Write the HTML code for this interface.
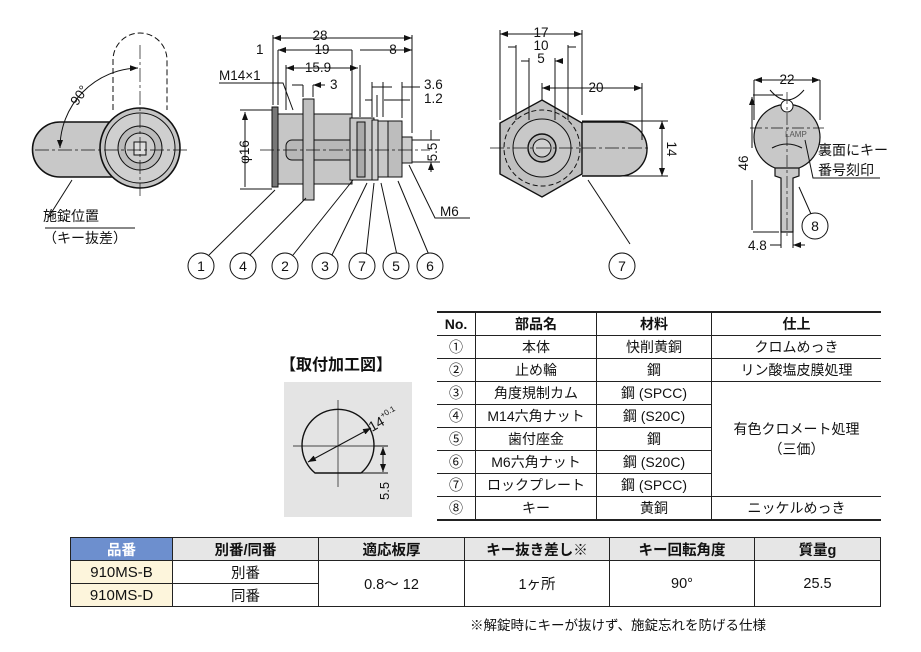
<!DOCTYPE html>
<html><head><meta charset="utf-8"><style>
body{margin:0;width:921px;height:652px;background:#fff;overflow:hidden;font-family:"Liberation Sans","Noto Sans CJK JP",sans-serif;}
svg{position:absolute;left:0;top:0}
table{position:absolute;border-collapse:collapse;font-size:14px;color:#111}
td{text-align:center;padding:0;border:1px solid #222}
.pt td{border-left:1px solid #222;border-right:1px solid #222;height:22px}
</style></head><body>
<svg width="921" height="652" font-family="Liberation Sans, Noto Sans CJK JP, sans-serif" font-size="13" fill="#111">
<defs><marker id="a" markerWidth="8" markerHeight="6" refX="8" refY="3" orient="auto-start-reverse"><path d="M0,0L8,3L0,6z" fill="#111"/></marker></defs>
<g stroke="#111" stroke-width="1" fill="none">
<!-- left view -->
<path d="M113,110V60A27,27 0 0 1 167,60V110" stroke-dasharray="6,3"/>
<path d="M140,122H60A27,27 0 0 0 60,177H140" fill="#c8c8c8" stroke-width="1.6"/>
<circle cx="140" cy="148" r="40" fill="#c4c4c4" stroke-width="1.6"/>
<circle cx="140" cy="148" r="35" fill="#cfcfcf"/>
<circle cx="140" cy="148" r="22" fill="#bbb"/>
<circle cx="140" cy="148" r="15" fill="#ccc"/>
<rect x="134" y="142" width="12" height="13" fill="#ddd"/>
<path d="M35,150H188M140,45V196" stroke-dasharray="14,3,3,3" stroke-width="0.7"/>
<path d="M60,148A80,80 0 0 1 138,68" marker-start="url(#a)" marker-end="url(#a)"/>
<path d="M72,180L48,218M45,228H135"/>
<!-- side view -->
<rect x="272" y="107" width="6" height="80" fill="#777"/>
<rect x="278" y="114" width="74" height="70" fill="#c6c6c6"/>
<rect x="286" y="140" width="70" height="20" fill="#b8b8b8" rx="6"/>
<rect x="303" y="99" width="11" height="101" fill="#c0c0c0"/>
<rect x="350" y="118" width="24" height="62" fill="#c8c8c8"/>
<rect x="357" y="122" width="8" height="55" fill="#aaa"/>
<rect x="372" y="120" width="6" height="60" fill="#d0d0d0"/>
<rect x="378" y="121" width="10" height="56" fill="#c8c8c8"/>
<rect x="388" y="121" width="14" height="56" fill="#bdbdbd"/>
<rect x="402" y="137" width="10" height="26" fill="#ccc"/>
<path d="M260,150H430" stroke-dasharray="14,3,3,3" stroke-width="0.7"/>
<path d="M273,35V105M412,35V133M278,50V105M352,50V115M286,65V110M360,65V115M360,83V117M303,85V97M313,85V97M372,82V117M377,95V117M383,82V117M402,82V118"/>
<path d="M273,38H412" marker-start="url(#a)" marker-end="url(#a)"/>
<path d="M278,50H352M360,50H412" marker-start="url(#a)" marker-end="url(#a)"/>
<path d="M286,68H358" marker-start="url(#a)" marker-end="url(#a)"/>
<path d="M292,85H303M325,85H313" marker-end="url(#a)"/>
<path d="M372,87H392M402,87H420" />
<path d="M365,100H372M384,100H410"/>
<path d="M240,110H272M240,189H272M245,112V187" />
<path d="M245,112V140M245,186V163" marker-start="url(#a)"/>
<path d="M412,140H440M412,162H440M431,130V140M431,172V162" marker-end="url(#a)"/>
<path d="M219,83H283L293,110"/>
<path d="M409,165L435,218H470"/>
<!-- leaders -->
<path d="M275,190L209,255M306,198L250,255M353,180L293,255M367,183L332,255M374,183L366,255M381,183L397,255M398,181L429,255"/>
<g fill="#fff"><circle cx="201" cy="266" r="13"/><circle cx="243" cy="266" r="13"/><circle cx="285" cy="266" r="13"/><circle cx="325" cy="266" r="13"/><circle cx="362" cy="266" r="13"/><circle cx="396" cy="266" r="13"/><circle cx="430" cy="266" r="13"/><circle cx="622" cy="266" r="13"/><circle cx="815" cy="226" r="13"/></g>
<!-- front view -->
<path d="M582,122H620A27,27 0 0 1 620,176H582" fill="#c6c6c6" stroke-width="1.4"/>
<path d="M542,100L582,123V174L542,197L500,174V123Z" fill="#c0c0c0" stroke-width="1.4"/>
<circle cx="542" cy="148" r="38" stroke-dasharray="5,3"/>
<circle cx="542" cy="148" r="29" fill="#c8c8c8"/>
<circle cx="542" cy="148" r="14" fill="#bbb" stroke-width="1.4"/>
<circle cx="542" cy="148" r="9" fill="#d0d0d0"/>
<path d="M490,148H650" stroke-dasharray="14,3,3,3" stroke-width="0.7"/>
<path d="M500,30V120M582,30V115M516,45V120M568,45V120M529,58V120M555,58V120M542,83V100M642,83V140M582,121H668M590,176H668"/>
<path d="M500,34H582" marker-start="url(#a)" marker-end="url(#a)"/>
<path d="M508,47H516M576,47H568M521,61H529M563,61H555" marker-end="url(#a)"/>
<path d="M542,88H642" marker-start="url(#a)" marker-end="url(#a)"/>
<path d="M662,121V176" marker-start="url(#a)" marker-end="url(#a)"/>
<path d="M630,244L588,180"/>
<!-- key -->
<path d="M775,165H799V176L793,178V232H781V178L775,176Z" fill="#c8c8c8" stroke-width="1.2"/>
<path d="M775,168A33,33 0 1 1 799,168Z" fill="#c8c8c8" stroke-width="1.2"/>
<circle cx="787" cy="106" r="6" fill="#fff"/>
<path d="M770,90Q787,110 804,90M772,148Q787,140 802,148"/>
<path d="M787,92V238M750,128H824" stroke-dasharray="12,3,3,3" stroke-width="0.7"/>
<path d="M753,95H783M753,232H779" />
<path d="M752,97V148M752,230V180" marker-start="url(#a)"/>
<path d="M754,80V120M820,80V120" />
<path d="M754,80H820" marker-start="url(#a)" marker-end="url(#a)"/>
<path d="M781,230V248M793,230V248M770,245H781M805,245H793" marker-end="url(#a)"/>
<path d="M805,140L813,178H880M799,187L811,214"/>
<!-- mounting -->
<rect x="284" y="382" width="128" height="135" fill="#e4e4e4" stroke="none"/>
<path d="M315,473A36,36 0 1 1 361,473Z" fill="none" stroke-width="1.4"/>
<path d="M338,400V487M293,446H387" stroke-width="0.7"/>
<path d="M308,462L371,428" marker-start="url(#a)" marker-end="url(#a)"/>
<path d="M361,473H388M374,446H388"/>
<path d="M383,447V472" marker-start="url(#a)" marker-end="url(#a)"/>
</g>
<g font-size="13.5">
<text x="320" y="40" text-anchor="middle" fill="#111">28</text>
<text x="256" y="54">1</text><text x="322" y="54" text-anchor="middle">19</text><text x="393" y="54" text-anchor="middle">8</text>
<text x="318" y="72" text-anchor="middle">15.9</text><text x="330" y="89">3</text>
<text x="424" y="89">3.6</text><text x="424" y="103">1.2</text>
<text x="219" y="80">M14×1</text>
<text transform="translate(249,152) rotate(-90)" text-anchor="middle">φ16</text>
<text transform="translate(437,152) rotate(-90)" text-anchor="middle">5.5</text>
<text x="440" y="216">M6</text>
<text transform="translate(83,98) rotate(-55)" text-anchor="middle">90°</text>
<text x="43" y="221" font-size="14">施錠位置</text>
<text x="43" y="243" font-size="14">（キー抜差）</text>
<text x="541" y="37" text-anchor="middle">17</text><text x="541" y="50" text-anchor="middle">10</text><text x="541" y="63" text-anchor="middle">5</text>
<text x="596" y="92" text-anchor="middle">20</text>
<text transform="translate(667,149) rotate(90)" text-anchor="middle">14</text>
<text x="787" y="84" text-anchor="middle">22</text>
<text transform="translate(748,163) rotate(-90)" text-anchor="middle">46</text>
<text x="748" y="250">4.8</text>
<text x="818" y="155" font-size="14">裏面にキー</text><text x="818" y="175" font-size="14">番号刻印</text>
<text x="785" y="137" font-size="8" fill="#555">LAMP</text>
<g text-anchor="middle" font-size="14"><text x="201" y="271">1</text><text x="243" y="271">4</text><text x="285" y="271">2</text><text x="325" y="271">3</text><text x="362" y="271">7</text><text x="396" y="271">5</text><text x="430" y="271">6</text><text x="622" y="271">7</text><text x="815" y="231">8</text></g>
<text x="280" y="370" font-size="16" font-weight="bold">【取付加工図】</text>
<text transform="translate(372,432) rotate(-30)" font-size="14">14<tspan font-size="8" dy="-7">+0.1</tspan></text>
<text transform="translate(389,500) rotate(-90)" font-size="13">5.5</text>
<text x="470" y="630" font-size="13.5">※解錠時にキーが抜けず、施錠忘れを防げる仕様</text>
</g>
</svg>
<table class="pt" style="left:437px;top:311px;width:444px;border-top:2px solid #222;border-bottom:2px solid #222">
<tr style="font-weight:bold"><td style="width:38px;border-left:none">No.</td><td style="width:120px">部品名</td><td style="width:114px">材料</td><td style="border-right:none">仕上</td></tr>
<tr><td style="border-left:none">①</td><td>本体</td><td>快削黄銅</td><td style="border-right:none">クロムめっき</td></tr>
<tr><td style="border-left:none">②</td><td>止め輪</td><td>鋼</td><td style="border-right:none">リン酸塩皮膜処理</td></tr>
<tr><td style="border-left:none">③</td><td>角度規制カム</td><td>鋼 (SPCC)</td><td rowspan="5" style="border-right:none">有色クロメート処理<br>（三価）</td></tr>
<tr><td style="border-left:none">④</td><td>M14六角ナット</td><td>鋼 (S20C)</td></tr>
<tr><td style="border-left:none">⑤</td><td>歯付座金</td><td>鋼</td></tr>
<tr><td style="border-left:none">⑥</td><td>M6六角ナット</td><td>鋼 (S20C)</td></tr>
<tr><td style="border-left:none">⑦</td><td>ロックプレート</td><td>鋼 (SPCC)</td></tr>
<tr><td style="border-left:none">⑧</td><td>キー</td><td>黄銅</td><td style="border-right:none">ニッケルめっき</td></tr>
</table>
<table style="left:70px;top:537px;width:811px;font-size:14.5px">
<tr style="font-weight:bold;height:23px;background:#e6e6e6"><td style="width:101px;background:#6d8fce;color:#fff">品番</td><td style="width:145px">別番/同番</td><td style="width:145px">適応板厚</td><td style="width:144px">キー抜き差し※</td><td style="width:144px">キー回転角度</td><td>質量g</td></tr>
<tr style="height:23px"><td style="background:#fdf5dc;font-size:15px">910MS-B</td><td>別番</td><td rowspan="2">0.8～ 12</td><td rowspan="2">1ヶ所</td><td rowspan="2">90°</td><td rowspan="2">25.5</td></tr>
<tr style="height:23px"><td style="background:#fdf5dc;font-size:15px">910MS-D</td><td>同番</td></tr>
</table>
</body></html>
